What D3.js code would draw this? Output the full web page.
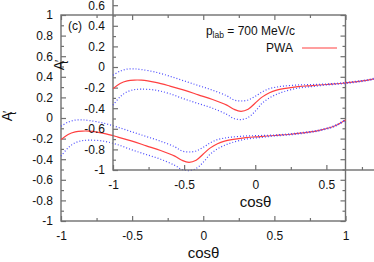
<!DOCTYPE html>
<html>
<head>
<meta charset="utf-8">
<script src="https://d3js.org/d3.v7.min.js"></script>
<style>
  body { margin: 0; background: #fff; }
</style>
</head>
<body>
<script>
// asymmetry A't vs cos(theta), PWA result with its error band
var cosTheta = [-1, -0.95, -0.9, -0.85, -0.8, -0.7, -0.6, -0.5, -0.4, -0.3, -0.2, -0.15, -0.1, -0.05,
  0, 0.05, 0.1, 0.15, 0.2, 0.3, 0.4, 0.5, 0.6, 0.7, 0.8, 0.9, 0.95, 1];
var pwa = [-0.21, -0.16, -0.135, -0.127, -0.128, -0.15, -0.185, -0.225, -0.27, -0.315, -0.37, -0.41, -0.43, -0.41,
  -0.35, -0.29, -0.25, -0.225, -0.21, -0.19, -0.18, -0.17, -0.16, -0.145, -0.125, -0.09, -0.06, -0.02];
var bandUpper = [-0.08, -0.04, -0.02, -0.018, -0.025, -0.05, -0.09, -0.135, -0.18, -0.225, -0.28, -0.32, -0.33, -0.32,
  -0.285, -0.24, -0.21, -0.195, -0.185, -0.175, -0.17, -0.165, -0.155, -0.14, -0.12, -0.085, -0.055, -0.015];
var bandLower = [-0.37, -0.29, -0.24, -0.22, -0.215, -0.225, -0.26, -0.31, -0.355, -0.4, -0.46, -0.5, -0.51, -0.49,
  -0.43, -0.35, -0.3, -0.265, -0.24, -0.205, -0.19, -0.175, -0.165, -0.15, -0.13, -0.095, -0.065, -0.025];

var xMajor = [-1, -0.5, 0, 0.5, 1];
var xMinor = [-0.75, -0.25, 0.25, 0.75];
var yMajor = [-1, -0.8, -0.6, -0.4, -0.2, 0, 0.2, 0.4, 0.6, 0.8, 1];
var yMinor = [-0.9, -0.7, -0.5, -0.3, -0.1, 0.1, 0.3, 0.5, 0.7, 0.9];

var w = 374,
    h = 262;

var FONT = '"Liberation Sans", Arial, Helvetica, sans-serif';
var FRAME = '#707070';
var RED = '#ff4040';
var BLUE = '#4a4aff';

var svg = d3.select('body').append('svg')
  .attr('width', w)
  .attr('height', h);

// the figure is the same panel printed twice, the second one shifted up and right
drawPanel(svg, 0, 0, true);
drawPanel(svg, 52, -51, false);

function drawPanel(svg, dx, dy, showKey) {
  var g = svg.append('g').attr('transform', 'translate(' + dx + ',' + dy + ')');

  var x = d3.scaleLinear().domain([-1, 1]).range([61, 345.5]);
  var y = d3.scaleLinear().domain([-1, 1]).range([221, 15]);
  var fmt = function(d) { return String(d); };

  // gnuplot style: ticks inward on all four sides
  g.append('g').attr('transform', 'translate(0,221)')
    .call(d3.axisBottom(x).tickValues(xMajor).tickSize(-5).tickPadding(10).tickFormat(fmt));
  g.append('g').attr('transform', 'translate(0,221)')
    .call(d3.axisBottom(x).tickValues(xMinor).tickSize(-3).tickFormat(''));
  g.append('g').attr('transform', 'translate(0,15)')
    .call(d3.axisTop(x).tickValues(xMajor).tickSize(-5).tickFormat(''));
  g.append('g').attr('transform', 'translate(0,15)')
    .call(d3.axisTop(x).tickValues(xMinor).tickSize(-3).tickFormat(''));

  g.append('g').attr('transform', 'translate(61,0)')
    .call(d3.axisLeft(y).tickValues(yMajor).tickSize(-5).tickPadding(8).tickFormat(fmt));
  g.append('g').attr('transform', 'translate(61,0)')
    .call(d3.axisLeft(y).tickValues(yMinor).tickSize(-3).tickFormat(''));
  g.append('g').attr('transform', 'translate(345.5,0)')
    .call(d3.axisRight(y).tickValues(yMajor).tickSize(-5).tickFormat(''));
  g.append('g').attr('transform', 'translate(345.5,0)')
    .call(d3.axisRight(y).tickValues(yMinor).tickSize(-3).tickFormat(''));

  g.selectAll('.domain').remove();
  g.selectAll('.tick line').attr('stroke', FRAME).attr('stroke-width', 1.2);
  g.selectAll('.tick text')
    .attr('fill', '#111')
    .style('font-size', '12px')
    .style('font-family', FONT);

  g.append('rect')
    .attr('x', 61)
    .attr('y', 15)
    .attr('width', 345.5 - 61)
    .attr('height', 221 - 15)
    .attr('fill', 'none')
    .attr('stroke', FRAME)
    .attr('stroke-width', 1.4);

  var line = d3.line()
    .x(function(d, i) { return x(cosTheta[i]); })
    .y(function(d) { return y(d); })
    .curve(d3.curveCatmullRom);

  g.append('path')
    .datum(pwa)
    .attr('d', line)
    .attr('fill', 'none')
    .attr('stroke', RED)
    .attr('stroke-width', 1.2);

  [bandUpper, bandLower].forEach(function(band) {
    g.append('path')
      .datum(band)
      .attr('d', line)
      .attr('fill', 'none')
      .attr('stroke', BLUE)
      .attr('stroke-width', 1.2)
      .attr('stroke-dasharray', '1,2');
  });

  // axis titles
  g.append('text')
    .attr('x', 203.5)
    .attr('y', 258)
    .attr('text-anchor', 'middle')
    .style('font-family', FONT)
    .style('font-size', '15px')
    .attr('fill', '#111')
    .text('cosθ');

  var yl = g.append('text')
    .attr('transform', 'translate(12,116) rotate(-90)')
    .attr('text-anchor', 'middle')
    .style('font-family', FONT)
    .style('font-size', '14px')
    .attr('fill', '#111');
  yl.append('tspan').text('A');
  yl.append('tspan').attr('dx', -1).style('font-size', '12px').text('′');
  yl.append('tspan').attr('dx', -4).attr('dy', 4).style('font-size', '10px').text('t');

  if (!showKey) return;

  g.append('text')
    .attr('x', 68)
    .attr('y', 30)
    .style('font-family', FONT)
    .style('font-size', '12px')
    .attr('fill', '#111')
    .text('(c)');

  var plab = g.append('text')
    .attr('x', 295)
    .attr('y', 35)
    .attr('text-anchor', 'end')
    .style('font-family', FONT)
    .style('font-size', '12px')
    .attr('fill', '#111');
  plab.append('tspan').text('p');
  plab.append('tspan').attr('dy', 3).style('font-size', '8.5px').text('lab');
  plab.append('tspan').attr('dy', -3).text(' = 700 MeV/c');

  g.append('text')
    .attr('x', 293)
    .attr('y', 52)
    .attr('text-anchor', 'end')
    .style('font-family', FONT)
    .style('font-size', '12px')
    .attr('fill', '#111')
    .text('PWA');

  g.append('line')
    .attr('x1', 302)
    .attr('x2', 337)
    .attr('y1', 48)
    .attr('y2', 48)
    .attr('stroke', RED)
    .attr('stroke-width', 1.2);
}
</script>
</body>
</html>
